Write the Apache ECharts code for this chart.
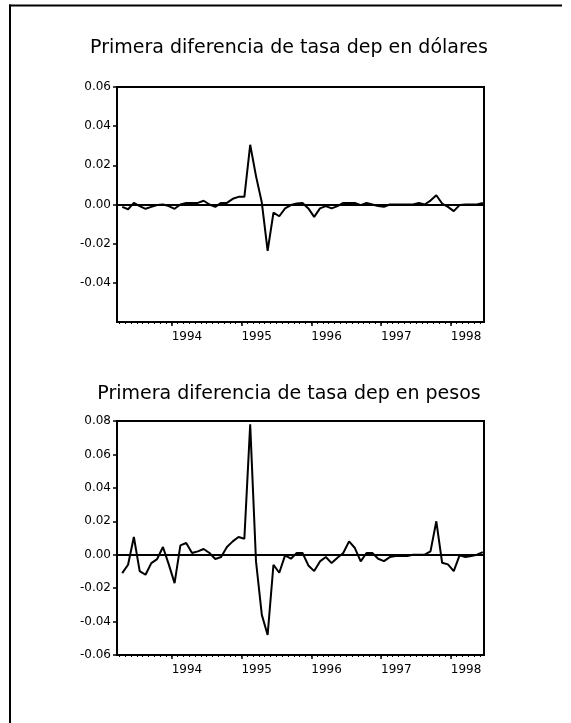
<!DOCTYPE html>
<html>
<head>
<meta charset="utf-8">
<script src="https://cdn.jsdelivr.net/npm/echarts@6/dist/echarts.min.js"></script>
<style>
  html, body { margin: 0; padding: 0; background: #fff; }
  #chart { width: 571px; height: 723px; }
</style>
</head>
<body>
<div id="chart"></div>
<script>
// Monthly first differences of deposit rates, 1993:04 – 1998:06
const titles = [
  'Primera diferencia de tasa dep en dólares',
  'Primera diferencia de tasa dep en pesos'
];
const baseYear = 1993;           // month axis counts months from Jan of this year
const firstMonth = 4;            // first observation: April 1993
const yearLabels = [1994, 1995, 1996, 1997, 1998];

const dolares = [
  -0.0012, -0.0024, 0.0008, -0.0008, -0.0022, -0.0012, -0.0003, 0.0000, -0.0008, -0.0022,
   0.0000,  0.0008, 0.0008,  0.0008,  0.0019,  0.0000, -0.0012, 0.0008,  0.0008,  0.0029,
   0.0039,  0.0039, 0.0305,  0.0145,  0.0010, -0.0237, -0.0042, -0.0060, -0.0020, -0.0003,
   0.0005,  0.0008, -0.0020, -0.0063, -0.0020, -0.0008, -0.0020, -0.0008, 0.0008,  0.0008,
   0.0008, -0.0003, 0.0008,  0.0000, -0.0008, -0.0012,  0.0000,  0.0000, 0.0000,  0.0000,
   0.0000,  0.0008, 0.0000,  0.0020,  0.0047,  0.0005, -0.0012, -0.0034, -0.0003, 0.0000,
   0.0000,  0.0000, 0.0008
];

const pesos = [
  -0.0110, -0.0060, 0.0106, -0.0098, -0.0120, -0.0050, -0.0026, 0.0046, -0.0058, -0.0170,
   0.0056,  0.0070, 0.0010,  0.0020,  0.0034,  0.0010, -0.0026, -0.0014, 0.0046,  0.0080,
   0.0106,  0.0096, 0.0780, -0.0040, -0.0360, -0.0480, -0.0060, -0.0108, -0.0004, -0.0024,
   0.0010,  0.0010, -0.0064, -0.0098, -0.0040, -0.0014, -0.0050, -0.0018, 0.0010,  0.0080,
   0.0040, -0.0040, 0.0010,  0.0010, -0.0024, -0.0038, -0.0014, -0.0008, -0.0008, -0.0008,
   0.0000,  0.0000, 0.0000,  0.0020,  0.0200, -0.0048, -0.0058, -0.0098, -0.0004, -0.0014,
  -0.0008,  0.0000, 0.0016
];

const yRanges = [
  { min: -0.06, max: 0.06, interval: 0.02, showMin: false },
  { min: -0.06, max: 0.08, interval: 0.02, showMin: true }
];

// Month axis: value = months since Jan of baseYear, observations sit mid-month
const xMin = 2.6, xMax = 65.7;
const obsX = i => (firstMonth - 1) + i + 0.5;
const yearVals = yearLabels.map(y => (y - baseYear) * 12);
const monthVals = [];
for (let m = Math.ceil(xMin); m <= Math.floor(xMax); m++) monthVals.push(m);

const font = 'DejaVu Sans';
const black = '#000';

const grids = [
  { left: 117, top: 87, width: 367, height: 235 },
  { left: 117, top: 421, width: 367, height: 234 }
].map(g => Object.assign(g, {
  show: true, borderColor: black, borderWidth: 2, backgroundColor: 'transparent'
}));

const xAxes = [];
const yAxes = [];
const series = [];
[dolares, pesos].forEach((vals, g) => {
  // major (yearly) ticks with labels
  xAxes.push({
    type: 'value', gridIndex: g, min: xMin, max: xMax, position: 'bottom',
    axisLine: { show: true, onZero: false, lineStyle: { color: black, width: 2 } },
    axisTick: { show: true, customValues: yearVals, length: 4, lineStyle: { color: black, width: 1.5 } },
    axisLabel: {
      show: true, customValues: yearVals, align: 'left', margin: 9,
      formatter: v => String(baseYear + Math.round(v / 12)),
      fontFamily: font, fontSize: 12, color: black
    },
    splitLine: { show: false }
  });
  // minor (monthly) ticks
  xAxes.push({
    type: 'value', gridIndex: g, min: xMin, max: xMax, position: 'bottom',
    axisLine: { show: false, onZero: false },
    axisTick: { show: true, customValues: monthVals, length: 2, lineStyle: { color: black, width: 1 } },
    axisLabel: { show: false },
    splitLine: { show: false }
  });
  const r = yRanges[g];
  yAxes.push({
    type: 'value', gridIndex: g, min: r.min, max: r.max, interval: r.interval,
    axisLine: { show: true, onZero: false, lineStyle: { color: black, width: 2 } },
    axisTick: { show: true, length: 4, lineStyle: { color: black, width: 1.5 } },
    axisLabel: {
      showMinLabel: r.showMin, margin: 6,
      formatter: v => (Math.abs(v) < 1e-9 ? 0 : v).toFixed(2),
      fontFamily: font, fontSize: 12, color: black
    },
    splitLine: { show: false }
  });
  series.push({
    type: 'line', xAxisIndex: g * 2, yAxisIndex: g,
    data: vals.map((v, i) => [obsX(i), v]),
    showSymbol: false, symbol: 'none',
    lineStyle: { color: black, width: 2 },
    markLine: {
      silent: true, symbol: 'none', label: { show: false },
      lineStyle: { color: black, width: 2, type: 'solid' },
      data: [{ yAxis: 0 }]
    },
    animation: false
  });
});

const chart = echarts.init(document.getElementById('chart'), null, { renderer: 'canvas' });
chart.setOption({
  backgroundColor: '#fff',
  animation: false,
  title: titles.map((t, g) => ({
    text: t, left: 289, top: g === 0 ? 39 : 385, textAlign: 'center', padding: 0,
    textStyle: { fontFamily: font, fontSize: 19, fontWeight: 'normal', color: black }
  })),
  graphic: [
    { type: 'line', shape: { x1: 9, y1: 5.5, x2: 562, y2: 5.5 }, style: { stroke: black, lineWidth: 2 } },
    { type: 'line', shape: { x1: 10, y1: 4.5, x2: 10, y2: 723 }, style: { stroke: black, lineWidth: 2 } }
  ],
  grid: grids,
  xAxis: xAxes,
  yAxis: yAxes,
  series: series
});
</script>
</body>
</html>
